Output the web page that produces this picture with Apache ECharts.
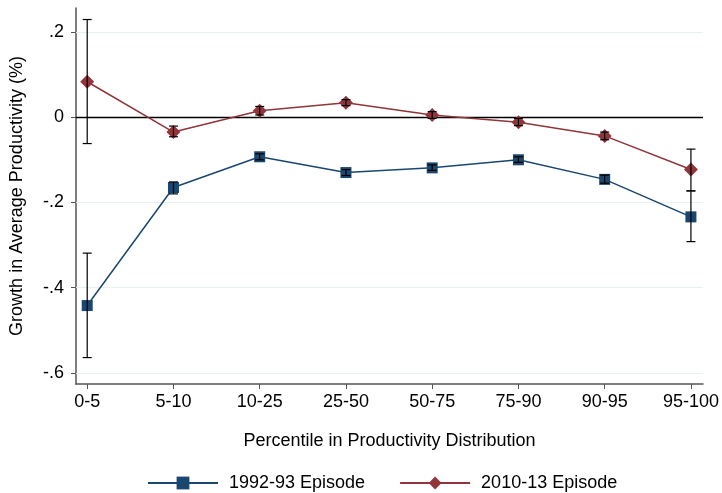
<!DOCTYPE html>
<html><head><meta charset="utf-8">
<script src="https://cdn.jsdelivr.net/npm/echarts@6/dist/echarts.min.js"></script>
<style>html,body{margin:0;padding:0;background:#fff}#c{width:722px;height:493px}</style>
</head><body><div id="c"></div>
<script>
var categories = ['0-5','5-10','10-25','25-50','50-75','75-90','90-95','95-100'];
var ep1992 = [-0.442,-0.165,-0.093,-0.130,-0.119,-0.100,-0.146,-0.234];
var ep1992Low = [-0.564,-0.180,-0.100,-0.137,-0.125,-0.106,-0.155,-0.292];
var ep1992High = [-0.319,-0.152,-0.086,-0.123,-0.112,-0.093,-0.136,-0.173];
var ep2010 = [0.083,-0.035,0.015,0.034,0.005,-0.012,-0.044,-0.123];
var ep2010Low = [-0.062,-0.046,0.005,0.027,-0.003,-0.020,-0.053,-0.173];
var ep2010High = [0.229,-0.021,0.025,0.041,0.013,-0.003,-0.035,-0.075];
var yTicks = [0.2,0,-0.2,-0.4,-0.6];
var gridLines = [0.2,-0.2,-0.4,-0.6];

var FONT = 'Liberation Sans';
var chart = echarts.init(document.getElementById('c'), null, {renderer:'canvas'});
function pts(arr){ return arr.map(function(v,i){ return [i,v]; }); }
function bars(lo,hi){ return lo.map(function(v,i){ return [i,v,hi[i]]; }); }
function fmtY(v){
  if (Math.abs(v) < 1e-9) return '0';
  var s = (Math.round(v*10)/10).toString();
  return s.replace('0.', '.');
}
function errRender(params, api){
  var x = api.value(0), lo = api.value(1), hi = api.value(2);
  var p1 = api.coord([x, hi]), p2 = api.coord([x, lo]);
  var w = 4.5;
  var st = {stroke:'#000', lineWidth:1.2};
  return {type:'group', children:[
    {type:'line', shape:{x1:p1[0],y1:p1[1],x2:p2[0],y2:p2[1]}, style:st},
    {type:'line', shape:{x1:p1[0]-w,y1:p1[1],x2:p1[0]+w,y2:p1[1]}, style:st},
    {type:'line', shape:{x1:p2[0]-w,y1:p2[1],x2:p2[0]+w,y2:p2[1]}, style:st}
  ]};
}
var option = {
  backgroundColor:'#fff',
  animation:false,
  textStyle:{fontFamily:FONT},
  grid:{left:76,right:19,top:8,bottom:109,containLabel:false,outerBoundsMode:'none'},
  legend:{
    top:469, left:142, itemWidth:70, itemHeight:16, itemGap:34,
    textStyle:{fontFamily:FONT,fontSize:18,color:'#000',padding:[0,0,0,6]},
    data:['1992-93 Episode','2010-13 Episode']
  },
  xAxis:{
    type:'value', min:-0.13, max:7.14,
    name:'Percentile in Productivity Distribution', nameLocation:'middle', nameGap:48,
    nameTextStyle:{fontFamily:FONT,fontSize:18,color:'#000'},
    axisLine:{show:true,onZero:false,lineStyle:{color:'#555',width:1.5}},
    axisTick:{show:true,length:5,lineStyle:{color:'#555'},customValues:[0,1,2,3,4,5,6,7]},
    axisLabel:{fontFamily:FONT,fontSize:18,color:'#000',margin:9,customValues:[0,1,2,3,4,5,6,7],
      formatter:function(v){ return categories[Math.round(v)]; }},
    splitLine:{show:false}
  },
  yAxis:{
    type:'value', min:-0.626, max:0.256,
    name:'Growth in Average Productivity (%)', nameLocation:'middle', nameGap:50, nameRotate:90,
    nameTextStyle:{fontFamily:FONT,fontSize:18,color:'#000'},
    axisLine:{show:true,onZero:false,lineStyle:{color:'#555',width:1.5}},
    axisTick:{show:true,length:5,lineStyle:{color:'#555'},customValues:yTicks},
    axisLabel:{fontFamily:FONT,fontSize:18,color:'#000',margin:12,customValues:yTicks,formatter:fmtY},
    splitLine:{show:false}
  },
  series:[
    {
      type:'line', name:'grid', data:[], silent:true, legendHoverLink:false, z:1,
      markLine:{silent:true, symbol:'none', label:{show:false}, animation:false, z:1,
        data: gridLines.map(function(v){ return {yAxis:v, lineStyle:{color:'#e8f0f2',width:1.2,type:'solid'}}; })
          .concat([{yAxis:0, lineStyle:{color:'#000',width:1.3,type:'solid'}}])
      }
    },
    {
      type:'line', name:'1992-93 Episode', data:pts(ep1992), z:3,
      symbol:'rect', symbolSize:11,
      lineStyle:{color:'#1a476f',width:1.5}, itemStyle:{color:'#1a476f'}
    },
    {
      type:'line', name:'2010-13 Episode', data:pts(ep2010), z:3,
      symbol:'diamond', symbolSize:14,
      lineStyle:{color:'#90353b',width:1.5}, itemStyle:{color:'#90353b'}
    },
    {type:'custom', name:'err1992', renderItem:errRender, data:bars(ep1992Low,ep1992High), z:5, silent:true},
    {type:'custom', name:'err2010', renderItem:errRender, data:bars(ep2010Low,ep2010High), z:5, silent:true}
  ]
};
chart.setOption(option);
</script></body></html>
